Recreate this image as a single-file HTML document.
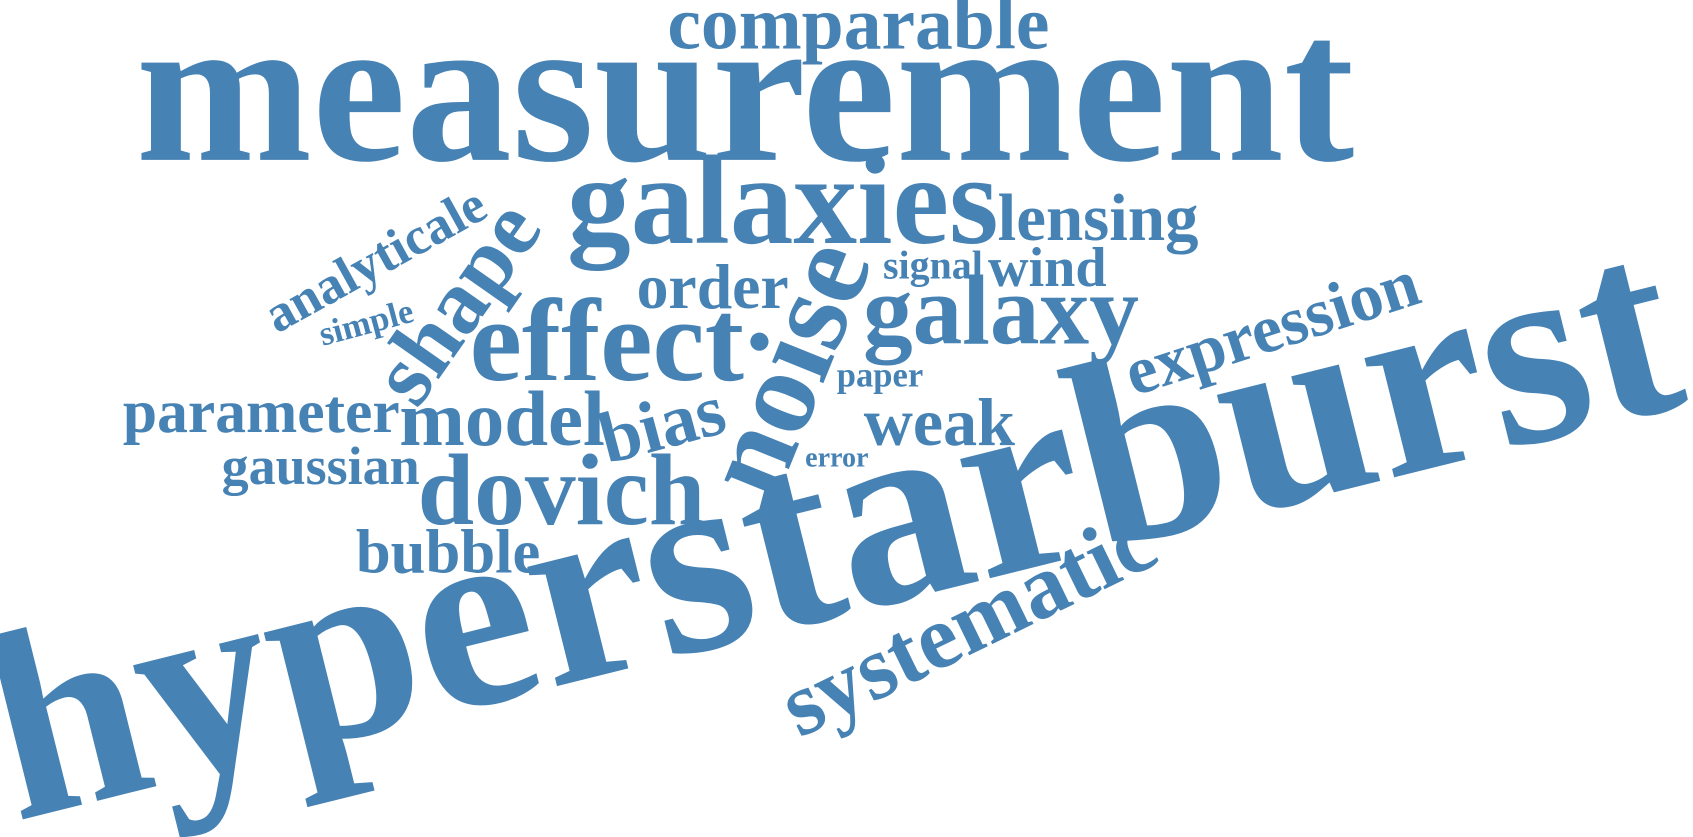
<!DOCTYPE html>
<html><head><meta charset="utf-8"><style>
html,body{margin:0;padding:0;background:#fff;}
svg{display:block;}
text{font-family:"Liberation Serif",serif;font-weight:bold;fill:#4682b4;}
</style></head><body>
<svg id="cloud" width="1693" height="837" viewBox="0 0 1568 775" preserveAspectRatio="none" xmlns="http://www.w3.org/2000/svg"></svg>
<script>
const words = ["measurement","comparable","galaxies","lensing","wind","signal","galaxy","order","effect","noise","shape","analyticale","simple","paper","expression","hyperstarburst","systematic","weak","bias","model","parameter","gaussian","dovich","error","bubble"];
const sizes = [196,70,118,62,52,37,92,59,109,112,84,49,32,32,63,248,84,63,68,73,57,50,94,26,58];
const cx = [690,795,725,1017,970,864,927,660,562,740,430,350,340,815,1180,790,900,870,615,465,242,297,520,775,415];
const cy = [148,45,225,222,265,258,318,285,352,345,285,245,302,358,310,567,585,412,400,412,400,448,485,432,530];
const rot = [0,0,0,0,0,0,0,0,0,-68,-55,-29,-15,0,-18,-14,-26,0,-15,0,0,0,0,0,0];
const centered = [0,0,0,0,0,0,0,0,0,1,1,1,1,0,1,0,1,0,1,0,0,0,0,0,0];
const svg = document.getElementById('cloud');
words.forEach((w,i)=>{
  const t = document.createElementNS('http://www.w3.org/2000/svg','text');
  
  
  t.setAttribute('text-anchor','middle');
  t.setAttribute('font-size', sizes[i]);
  if (centered[i]) t.setAttribute('dy','0.22em');
  t.setAttribute('transform','translate('+cx[i]+','+cy[i]+') rotate('+rot[i]+')');
  t.textContent = w;
  svg.appendChild(t);
});
</script>
</body></html>
